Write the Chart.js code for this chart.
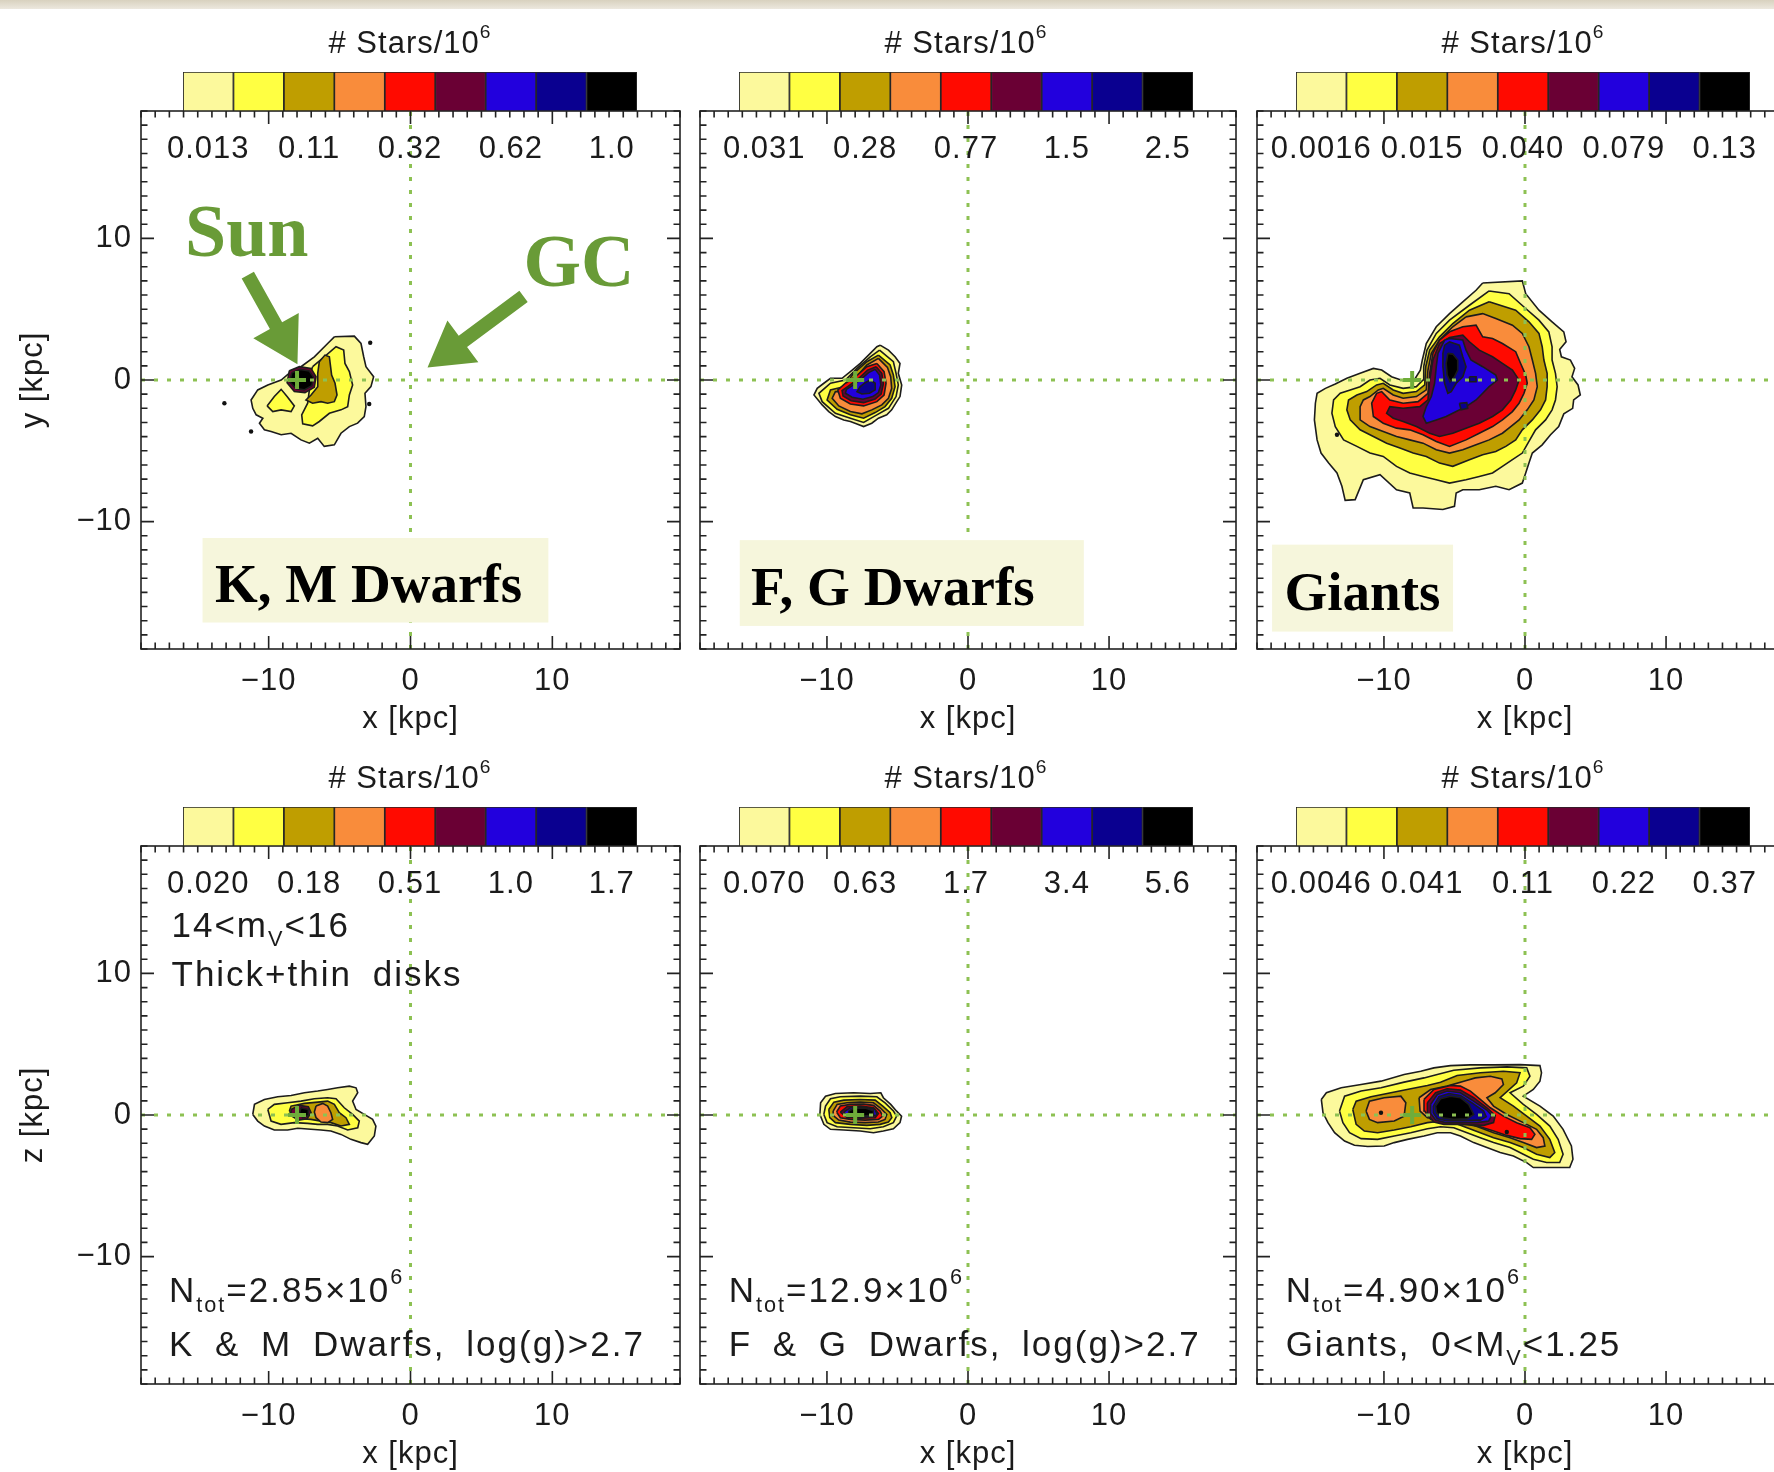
<!DOCTYPE html>
<html>
<head>
<meta charset="utf-8">
<title>Stellar density maps</title>
<script src="https://cdn.jsdelivr.net/npm/chart.js@4.4.1/dist/chart.umd.min.js"></script>
<style>
  html, body { margin: 0; padding: 0; background: #fff; }
  body { position: relative; width: 1774px; height: 1472px; overflow: hidden; }
  .rim { position: absolute; left: 0; top: 0; width: 1774px; height: 9px; background: linear-gradient(#d8d1bf, #ece8de); }
  canvas { position: absolute; }
</style>
</head>
<body>
<div class="rim"></div>
<script>
// density levels, lowest first
const levelColors = ['#fcf99c', '#ffff42', '#bf9e00', '#f98c3b', '#ff0a00', '#6a0034', '#2200dd', '#0a0090', '#000000'];
const cbTickPos = [0.5, 2.5, 4.5, 6.5, 8.5];
const axisTicks = [-10, 0, 10];
const sunPos = [{x: -8, y: 0}];

// colour bar labels (# stars / 10^6)
const cbKMFace = ['0.013', '0.11', '0.32', '0.62', '1.0'];
const cbFGFace = ['0.031', '0.28', '0.77', '1.5', '2.5'];
const cbGiFace = ['0.0016', '0.015', '0.040', '0.079', '0.13'];
const cbKMEdge = ['0.020', '0.18', '0.51', '1.0', '1.7'];
const cbFGEdge = ['0.070', '0.63', '1.7', '3.4', '5.6'];
const cbGiEdge = ['0.0046', '0.041', '0.11', '0.22', '0.37'];

// contour polygons in kpc: [level, [x0, y0, x1, y1, ...]]
const kmFaceOn = [
  [1, [-5.37,3.05, -3.96,3.10, -3.49,2.58, -3.30,1.64, -3.14,0.94, -2.60,0.23, -2.79,-0.47, -3.21,-0.94, -3.14,-1.88, -3.26,-2.58, -3.73,-3.05, -4.31,-3.29, -4.90,-3.76, -5.37,-4.58, -6.08,-4.69, -6.54,-4.11, -7.13,-4.46, -7.72,-4.23, -8.42,-3.76, -9.12,-3.87, -9.83,-3.64, -10.30,-3.52, -10.65,-3.05, -10.41,-2.70, -10.88,-2.46, -11.12,-2.00, -11.24,-1.41, -10.77,-0.70, -10.06,-0.35, -9.12,0, -8.42,0.59, -7.72,0.94, -6.78,1.64, -5.84,2.58]],
  [2, [-6.90,0.94, -6.08,1.64, -5.25,2.35, -4.71,2.11, -4.62,1.17, -4.31,0.59, -4.08,-0.35, -4.31,-1.06, -4.43,-1.88, -4.90,-2.11, -5.72,-2.35, -6.43,-2.93, -6.90,-3.24, -7.60,-3.10, -7.67,-2.46, -7.25,-1.64, -7.13,-0.70, -7.25,0]],
  [2, [-10.11,-1.83, -9.60,-1.17, -9.12,-0.66, -8.70,-1.17, -8.19,-1.83, -8.42,-2.23, -9.12,-2.11, -9.71,-2.23]],
  [3, [-6.43,1.29, -6.03,1.76, -5.72,1.64, -5.56,0.35, -5.32,-0.23, -5.18,-1.06, -5.37,-1.53, -5.84,-1.64, -6.31,-1.53, -6.90,-1.64, -7.37,-1.41, -7.01,-1.06, -6.54,-0.47, -6.54,0.47]],
  [6, [-8.54,0.66, -7.83,0.94, -7.01,0.82, -6.66,0.23, -6.78,-0.52, -7.44,-0.89, -8.19,-0.82, -8.70,-0.19]],
  [9, [-8.37,0.52, -7.78,0.75, -7.13,0.63, -6.83,0.19, -6.95,-0.40, -7.49,-0.70, -8.07,-0.61, -8.52,-0.12]]
];
const kmFaceSpecks = [-2.84,2.63, -2.91,-1.69, -11.24,-3.64, -13.12,-1.64];

const fgFaceOn = [
  [1, [-6.23,2.46, -5.64,2.11, -5.17,1.64, -4.82,1.17, -4.94,0.47, -4.70,-0.35, -4.82,-1.17, -5.05,-1.53, -5.41,-2.11, -5.76,-2.46, -6.35,-2.70, -6.82,-3.05, -7.40,-3.29, -7.87,-3.10, -8.34,-2.93, -8.81,-2.82, -9.40,-2.58, -9.87,-2.23, -10.34,-1.76, -10.92,-1.06, -10.69,-0.59, -10.22,-0.23, -9.75,0.12, -8.93,0.12, -8.34,0.59, -7.64,1.17, -6.93,1.88, -6.46,2.35]],
  [2, [-6.27,2.11, -5.29,1.29, -5.10,0.47, -4.94,-0.35, -5.10,-1.17, -5.64,-2.00, -6.46,-2.46, -7.40,-3.00, -8.34,-2.70, -9.40,-2.35, -10.34,-1.53, -10.57,-0.94, -9.75,-0.23, -8.69,0, -7.87,0.82, -6.93,1.64]],
  [3, [-6.35,1.76, -5.52,1.06, -5.29,0.35, -5.17,-0.47, -5.41,-1.29, -5.88,-1.88, -6.58,-2.30, -7.40,-2.70, -8.34,-2.46, -9.28,-2.07, -9.99,-1.41, -9.75,-0.70, -8.81,-0.47, -8.11,0.47, -7.17,1.29]],
  [4, [-6.35,1.53, -5.71,0.89, -5.48,0.23, -5.41,-0.59, -5.64,-1.29, -6.11,-1.76, -6.82,-2.11, -7.52,-2.39, -8.34,-2.23, -9.16,-1.83, -9.63,-1.29, -9.40,-0.82, -8.81,-0.82, -7.99,0.12, -7.17,1.06]],
  [5, [-6.46,1.17, -5.95,0.59, -5.81,-0.23, -5.95,-1.06, -6.46,-1.53, -7.40,-1.83, -8.34,-1.69, -9.05,-1.29, -9.23,-0.70, -8.69,-0.23, -7.99,0.23, -7.17,0.94]],
  [6, [-6.51,0.94, -6.11,0.47, -6.00,-0.28, -6.16,-0.99, -6.58,-1.34, -7.40,-1.60, -8.29,-1.46, -8.86,-1.13, -8.93,-0.75, -8.46,-0.42, -7.82,0.05, -7.12,0.70]],
  [7, [-6.58,0.75, -6.27,0.35, -6.18,-0.35, -6.35,-0.89, -6.75,-1.17, -7.45,-1.36, -8.22,-1.22, -8.69,-0.94, -8.62,-0.66, -8.11,-0.35, -7.59,0.05, -7.05,0.52]],
  [8, [-6.93,0, -6.58,-0.23, -6.58,-0.70, -6.98,-0.94, -7.52,-0.99, -7.87,-0.82, -7.64,-0.47, -7.29,-0.19]]
];

const giFaceOn = [
  [1, [-3.00,6.85, -0.19,7.00, 0.05,6.10, 0.99,4.93, 1.92,4.11, 2.75,3.40, 2.91,2.70, 2.46,2.16, 2.58,1.64, 3.22,1.41, 3.52,0.82, 3.33,0.23, 3.76,-0.35, 3.92,-1.06, 3.45,-1.41, 3.38,-2.00, 2.75,-2.39, 2.39,-3.29, 1.81,-3.87, 1.22,-4.58, 0.52,-5.16, 0.28,-5.87, 0.05,-6.57, -0.19,-7.28, -1.13,-7.75, -2.07,-7.51, -3.24,-7.75, -4.41,-7.75, -4.88,-7.98, -5.00,-8.92, -5.82,-9.15, -7.23,-9.04, -7.93,-9.04, -8.17,-7.98, -9.11,-7.75, -10.28,-6.69, -11.46,-7.04, -12.04,-8.45, -12.75,-8.50, -12.98,-7.51, -13.33,-6.57, -13.92,-5.87, -14.46,-5.16, -14.74,-4.23, -14.93,-2.82, -14.86,-1.64, -14.74,-0.94, -14.15,-0.59, -13.45,-0.28, -12.63,0.12, -11.69,0.47, -10.75,0.82, -10.16,0.70, -9.46,0.23, -8.64,-0.05, -7.82,0.05, -7.42,0.70, -7.28,1.41, -7.00,2.58, -6.29,3.76, -5.35,4.69, -4.41,5.52, -3.47,6.34]],
  [2, [-2.54,6.29, -1.13,6.10, 0.05,5.05, 0.99,4.23, 1.69,3.40, 1.92,2.35, 1.92,1.41, 2.16,0.47, 2.28,-0.47, 2.16,-1.41, 1.92,-2.11, 1.46,-2.82, 0.75,-3.52, 0.28,-4.34, -0.19,-5.16, -0.89,-5.63, -1.60,-6.10, -2.30,-6.57, -3.24,-6.81, -4.18,-7.04, -5.35,-7.28, -6.29,-7.04, -7.23,-6.81, -8.17,-6.57, -9.11,-6.10, -10.05,-5.40, -10.99,-5.16, -11.92,-4.69, -12.86,-4.23, -13.45,-3.29, -13.69,-2.35, -13.57,-1.41, -13.10,-0.94, -12.39,-0.70, -11.69,-0.47, -10.99,0, -10.28,0.12, -9.58,-0.35, -8.64,-0.59, -7.70,-0.47, -7.23,0, -7.18,0.94, -6.95,2.11, -6.29,3.29, -5.35,4.23, -3.94,5.28]],
  [3, [-2.54,5.52, -0.66,4.93, 0.28,4.11, 0.99,3.29, 1.22,2.35, 1.34,1.41, 1.57,0.47, 1.57,-0.47, 1.46,-1.41, 1.10,-2.11, 0.52,-2.82, -0.19,-3.52, -0.66,-4.23, -1.36,-4.69, -2.07,-5.05, -3.00,-5.28, -3.94,-5.63, -5.12,-6.10, -6.06,-5.87, -7.00,-5.40, -7.93,-5.16, -8.87,-4.81, -9.81,-4.46, -10.75,-3.99, -11.69,-3.52, -12.39,-2.82, -12.63,-2.11, -12.51,-1.41, -11.92,-1.06, -11.22,-0.82, -10.52,-0.35, -10.05,-0.23, -9.34,-0.70, -8.64,-0.94, -7.70,-0.82, -7.11,-0.35, -7.04,0.94, -6.76,2.11, -6.06,3.05, -5.12,3.99, -3.94,4.93]],
  [4, [-4.18,4.46, -3.00,4.69, -2.07,4.34, -0.89,3.87, -0.19,3.29, 0.28,2.35, 0.52,1.41, 0.75,0.47, 0.87,-0.47, 0.63,-1.41, 0.16,-2.11, -0.42,-2.82, -1.01,-3.29, -1.60,-3.76, -2.54,-4.23, -3.47,-4.58, -4.41,-4.93, -5.35,-5.16, -6.29,-4.93, -7.23,-4.46, -8.17,-4.23, -9.11,-3.99, -10.05,-3.64, -10.99,-3.29, -11.69,-2.82, -11.69,-1.88, -11.46,-1.41, -10.99,-1.17, -10.40,-0.70, -10.05,-0.59, -9.34,-1.06, -8.64,-1.29, -7.70,-1.17, -7.00,-0.70, -6.88,0.70, -6.64,1.88, -6.06,2.82, -5.12,3.76]],
  [5, [-5.35,3.40, -4.41,3.76, -3.47,3.87, -3.00,3.05, -2.30,2.93, -1.60,2.58, -0.66,2.00, -0.31,1.17, 0.05,0.35, 0.16,-0.23, -0.07,-0.94, -0.42,-1.64, -0.89,-2.23, -1.60,-2.82, -2.30,-3.29, -3.24,-3.76, -4.18,-4.23, -5.35,-4.69, -6.29,-4.34, -7.23,-3.87, -8.17,-3.52, -9.11,-3.40, -10.05,-3.05, -10.75,-2.58, -10.87,-1.64, -10.52,-0.94, -10.16,-0.82, -9.58,-1.41, -8.64,-1.64, -7.58,-1.53, -6.88,-0.94, -6.76,0.47, -6.53,1.88, -6.06,2.82]],
  [6, [-6.06,2.58, -5.35,3.00, -4.41,3.17, -3.94,2.70, -3.24,2.11, -2.30,1.64, -1.60,1.17, -0.89,0.70, -0.42,0, -0.66,-0.70, -1.01,-1.41, -1.60,-2.11, -2.30,-2.58, -3.24,-3.05, -4.18,-3.40, -5.12,-3.76, -6.06,-3.99, -6.76,-3.76, -7.70,-3.29, -8.64,-2.93, -9.34,-2.70, -9.81,-2.35, -9.58,-1.88, -8.64,-2.00, -7.46,-1.88, -6.88,-1.41, -6.76,0, -6.53,1.41]],
  [7, [-5.70,2.82, -5.35,2.93, -4.41,2.82, -4.18,2.11, -3.83,1.41, -3.00,0.94, -2.07,0.35, -1.95,0, -2.54,-0.47, -3.00,-0.94, -3.47,-1.41, -4.18,-1.88, -4.88,-2.23, -5.59,-2.58, -6.29,-2.82, -7.00,-3.05, -7.23,-2.58, -7.00,-1.88, -6.64,-1.17, -6.41,-0.23, -6.29,0.94, -6.17,1.88]],
  [8, [-5.70,2.46, -5.35,2.70, -4.65,2.46, -4.41,1.64, -4.18,0.94, -4.41,0.23, -4.88,-0.23, -5.23,-0.82, -5.47,-0.94, -5.70,-0.23, -5.82,0.94, -5.82,1.88]],
  [8, [-4.65,-1.64, -4.13,-1.60, -4.06,-2.00, -4.53,-2.11]],
  [8, [-3.94,0.23, -3.47,0.23, -3.47,-0.12, -3.90,-0.12]],
  [9, [-5.47,1.88, -5.12,1.83, -4.77,1.41, -4.77,0.70, -5.00,0.23, -5.31,-0.12, -5.52,0.35, -5.59,1.17]]
];
const giFaceSpecks = [-13.33,-3.87];

const kmEdgeOn = [
  [1, [-11.12,0.04, -11.00,0.75, -10.30,1.10, -9.36,1.29, -8.42,1.38, -7.48,1.57, -6.54,1.69, -5.84,1.80, -5.14,1.92, -4.31,2.04, -3.84,1.92, -3.72,1.57, -4.08,0.98, -3.84,0.39, -3.26,0.04, -2.67,-0.31, -2.44,-0.78, -2.55,-1.48, -3.02,-2.07, -3.49,-1.95, -4.20,-1.72, -4.90,-1.37, -5.61,-1.13, -6.31,-1.06, -7.02,-1.01, -7.95,-0.94, -8.66,-1.06, -9.60,-1.06, -10.30,-0.78, -10.77,-0.43]],
  [2, [-10.06,0.39, -9.60,0.75, -8.66,0.86, -7.72,0.98, -6.78,1.15, -5.84,1.22, -5.25,1.15, -4.67,0.51, -4.08,0.04, -3.61,-0.43, -3.72,-0.90, -4.43,-1.06, -5.14,-0.78, -5.84,-0.66, -6.54,-0.66, -7.25,-0.59, -8.19,-0.54, -9.13,-0.66, -9.83,-0.43]],
  [3, [-8.54,0.28, -8.42,0.63, -7.48,0.82, -6.54,0.91, -5.84,0.98, -5.37,0.75, -5.02,0.16, -4.55,-0.19, -4.31,-0.66, -4.90,-0.78, -5.61,-0.54, -6.31,-0.43, -7.02,-0.31, -7.72,-0.26, -8.30,-0.08]],
  [4, [-6.66,0.63, -6.19,0.82, -5.84,0.63, -5.61,0.16, -5.49,-0.31, -5.84,-0.54, -6.31,-0.50, -6.66,-0.19, -6.78,0.21]],
  [6, [-8.42,0.39, -7.83,0.68, -7.20,0.58, -7.01,0.16, -7.29,-0.26, -7.90,-0.36, -8.37,-0.08]],
  [9, [-7.72,0.51, -7.20,0.39, -7.20,-0.03, -7.60,-0.19, -7.83,0.16]]
];

const fgEdgeOn = [
  [1, [-10.50,0.04, -10.45,0.86, -10.10,1.33, -9.40,1.52, -8.11,1.57, -6.93,1.52, -6.18,1.57, -6.00,1.22, -5.48,0.75, -5.06,0.27, -4.71,-0.08, -4.82,-0.54, -5.29,-0.97, -6.00,-1.13, -6.70,-1.25, -7.64,-1.13, -8.81,-1.06, -9.75,-1.01, -10.22,-0.66]],
  [2, [-10.22,0.04, -10.10,0.63, -9.75,1.15, -9.05,1.29, -7.64,1.33, -6.46,1.29, -5.88,0.86, -5.29,0.28, -5.06,-0.08, -5.29,-0.54, -6.00,-0.83, -6.93,-0.97, -8.11,-0.90, -9.28,-0.83, -9.99,-0.54]],
  [3, [-9.87,0.39, -9.51,0.91, -8.81,1.05, -7.64,1.10, -6.58,1.05, -6.04,0.63, -5.52,0.16, -5.40,-0.19, -5.64,-0.50, -6.23,-0.66, -7.17,-0.73, -8.34,-0.66, -9.40,-0.54, -9.80,-0.19]],
  [4, [-9.56,0.28, -9.28,0.75, -8.58,0.86, -7.64,0.91, -6.70,0.86, -6.23,0.51, -5.76,0.04, -5.88,-0.31, -6.35,-0.50, -7.29,-0.54, -8.34,-0.50, -9.16,-0.36, -9.51,-0.08]],
  [5, [-9.32,0.21, -9.05,0.63, -8.34,0.75, -7.40,0.77, -6.70,0.68, -6.23,0.28, -6.04,-0.08, -6.35,-0.31, -7.29,-0.36, -8.34,-0.31, -9.05,-0.19]],
  [6, [-9.05,0.21, -8.58,0.58, -7.64,0.63, -6.70,0.51, -6.35,0.11, -6.58,-0.19, -7.64,-0.22, -8.58,-0.17]],
  [7, [-8.81,0.21, -8.34,0.51, -7.40,0.56, -6.58,0.39, -6.46,0.04, -6.82,-0.12, -7.87,-0.15, -8.58,-0.08]],
  [9, [-8.46,0.28, -8.11,0.46, -7.29,0.49, -6.70,0.30, -6.70,0.02, -7.29,-0.08, -8.11,-0.08, -8.46,0.04]]
];

const giEdgeOn = [
  [1, [-14.44,1.10, -14.08,1.57, -13.03,1.92, -11.62,2.15, -10.21,2.39, -8.57,2.86, -7.39,3.09, -6.46,3.33, -5.28,3.49, -3.87,3.54, -2.23,3.54, -0.35,3.56, 1.06,3.49, 1.17,2.98, 1.06,2.39, 0.59,1.80, -0.12,1.33, 1.06,0.63, 2.00,-0.08, 2.70,-1.01, 3.29,-2.19, 3.40,-3.12, 3.17,-3.71, 1.53,-3.71, 0.59,-3.71, 0.12,-3.36, -0.82,-2.89, -1.76,-2.65, -2.70,-2.30, -3.64,-1.95, -4.58,-1.48, -5.28,-1.25, -6.22,-1.25, -7.16,-1.48, -8.33,-1.72, -9.27,-1.95, -9.98,-2.19, -11.15,-2.23, -12.09,-2.14, -12.79,-1.84, -13.50,-1.25, -13.97,-0.54, -14.32,0.16]],
  [2, [-13.15,0.28, -12.79,1.33, -11.62,1.69, -10.21,1.92, -8.57,2.32, -7.16,2.62, -6.22,2.86, -5.05,3.16, -3.17,3.33, -1.29,3.40, 0.12,3.33, 0.35,2.74, -0.12,2.04, -1.06,1.57, -0.12,0.75, 0.82,0.04, 1.76,-0.78, 2.35,-1.72, 2.70,-2.77, 2.46,-3.36, 1.53,-3.36, 0.59,-3.12, -0.12,-2.77, -1.06,-2.30, -2.23,-1.95, -3.17,-1.60, -4.11,-1.25, -5.05,-0.90, -5.99,-0.83, -6.92,-0.97, -8.10,-1.25, -9.27,-1.48, -10.45,-1.72, -11.62,-1.67, -12.44,-1.25, -12.91,-0.54]],
  [3, [-12.21,0.39, -11.97,0.98, -10.92,1.29, -9.51,1.57, -8.10,1.85, -6.92,2.08, -5.99,2.32, -4.81,2.79, -3.17,2.98, -1.53,3.09, -0.35,2.98, -0.59,2.27, -1.76,1.22, -0.82,0.63, 0.12,-0.08, 1.06,-0.78, 1.76,-1.72, 2.11,-2.65, 1.76,-3.01, 0.82,-2.77, -0.12,-2.30, -1.06,-1.95, -2.23,-1.60, -3.17,-1.25, -4.11,-0.90, -5.05,-0.54, -5.99,-0.43, -6.92,-0.54, -8.10,-0.83, -9.27,-1.06, -10.45,-1.25, -11.39,-1.13, -11.97,-0.66]],
  [4, [-11.27,0.28, -11.03,0.98, -9.98,1.22, -8.80,1.33, -8.45,0.86, -8.57,-0.08, -9.27,-0.43, -10.45,-0.54, -11.03,-0.31]],
  [4, [-7.51,1.22, -6.69,1.80, -5.52,2.04, -4.34,2.39, -3.52,2.62, -2.46,2.74, -1.64,2.55, -1.53,2.15, -2.11,1.57, -2.70,1.22, -2.23,0.63, -1.29,0.04, -0.12,-0.54, 0.82,-1.01, 1.29,-1.60, 1.41,-2.19, 0.82,-2.30, -0.12,-1.95, -1.06,-1.60, -2.23,-1.25, -3.17,-0.90, -4.11,-0.54, -5.05,-0.43, -5.99,-0.31, -6.92,-0.19, -7.44,0.28]],
  [5, [-7.16,1.10, -6.46,1.80, -5.28,2.08, -4.58,2.04, -3.87,1.69, -3.17,1.10, -2.46,0.51, -1.53,-0.08, -0.59,-0.54, 0.35,-0.90, 0.70,-1.37, 0.47,-1.72, -0.35,-1.67, -1.29,-1.44, -2.23,-1.13, -3.17,-0.83, -4.11,-0.66, -5.05,-0.59, -5.99,-0.54, -6.69,-0.31, -7.11,0.28]],
  [6, [-6.92,0.86, -6.34,1.57, -5.52,1.85, -4.58,1.76, -3.64,1.22, -2.70,0.51, -2.11,-0.03, -2.23,-0.54, -2.93,-0.73, -3.87,-0.69, -4.81,-0.66, -5.75,-0.66, -6.46,-0.50, -6.88,0.04]],
  [7, [-6.69,0.75, -6.22,1.45, -5.52,1.69, -4.58,1.57, -3.64,0.98, -2.70,0.35, -2.35,-0.03, -2.58,-0.43, -3.40,-0.54, -4.58,-0.54, -5.63,-0.54, -6.34,-0.36, -6.69,0.11]],
  [8, [-6.50,0.63, -6.10,1.29, -5.40,1.52, -4.58,1.38, -3.76,0.86, -2.93,0.28, -2.75,-0.12, -3.17,-0.36, -4.34,-0.40, -5.52,-0.40, -6.22,-0.26, -6.50,0.16]],
  [9, [-6.34,0.63, -5.99,1.15, -5.28,1.33, -4.58,1.22, -3.99,0.75, -3.64,0.04, -4.11,-0.26, -5.05,-0.31, -5.87,-0.19, -6.27,0.16]]
];
const giEdgeSpecks = [-10.21,0.16, -1.29,-1.20];

const ink = '#1b1b1b';
const sans = '"Liberation Sans", Arial, sans-serif';
const serif = '"Liberation Serif", "Times New Roman", serif';
const green = '#699b37';
const labelFill = '#f6f6dc';

const colLeft = [141, 697, 1254];
const rowTop = [111, 846];
const plotW = 539, plotH = 538;

function toPoints(flat) {
  const pts = [];
  for (let i = 0; i < flat.length; i += 2) pts.push({x: flat[i], y: flat[i + 1]});
  return pts;
}

function tickText(v) {
  return v < 0 ? '\u2212' + Math.abs(v) : String(v);
}

function addCanvas(left, top, w, h) {
  const c = document.createElement('canvas');
  c.width = w; c.height = h;
  c.style.left = left + 'px'; c.style.top = top + 'px';
  c.style.width = w + 'px'; c.style.height = h + 'px';
  document.body.appendChild(c);
  return c;
}

// keep the plot box fixed: no extra room for overhanging tick labels
function noOverhang(s) {
  s.paddingTop = 0; s.paddingBottom = 0; s.paddingLeft = 0; s.paddingRight = 0;
}

// box outline plus inward ticks on all four sides
const framePlugin = {
  id: 'frame',
  afterDraw(chart) {
    const {ctx, chartArea: a, scales: {x, y}} = chart;
    ctx.save();
    ctx.strokeStyle = '#222';
    ctx.lineWidth = 1.6;
    ctx.strokeRect(a.left, a.top, a.right - a.left, a.bottom - a.top);
    ctx.beginPath();
    for (let v = -19; v <= 19; v++) {
      const len = v % 10 === 0 ? 13 : 6.5;
      const px = x.getPixelForValue(v), py = y.getPixelForValue(v);
      ctx.moveTo(px, a.bottom); ctx.lineTo(px, a.bottom - len);
      ctx.moveTo(px, a.top); ctx.lineTo(px, a.top + len);
      ctx.moveTo(a.left, py); ctx.lineTo(a.left + len, py);
      ctx.moveTo(a.right, py); ctx.lineTo(a.right - len, py);
    }
    ctx.stroke();
    ctx.restore();
  }
};

const spacingPlugin = {
  id: 'spacing',
  beforeDraw(chart) { chart.ctx.letterSpacing = '1px'; }
};

function drawArrow(ctx, x, y, a) {
  const x0 = x.getPixelForValue(a.from[0]), y0 = y.getPixelForValue(a.from[1]);
  const x1 = x.getPixelForValue(a.to[0]), y1 = y.getPixelForValue(a.to[1]);
  const len = Math.hypot(x1 - x0, y1 - y0);
  const ux = (x1 - x0) / len, uy = (y1 - y0) / len, nx = -uy, ny = ux;
  const sw = 7, hw = 26, hb = len - 44;
  const bx = x0 + ux * hb, by = y0 + uy * hb;
  ctx.beginPath();
  ctx.moveTo(x0 + nx * sw, y0 + ny * sw);
  ctx.lineTo(bx + nx * sw, by + ny * sw);
  ctx.lineTo(bx + nx * hw, by + ny * hw);
  ctx.lineTo(x1, y1);
  ctx.lineTo(bx - nx * hw, by - ny * hw);
  ctx.lineTo(bx - nx * sw, by - ny * sw);
  ctx.lineTo(x0 - nx * sw, y0 - ny * sw);
  ctx.closePath();
  ctx.fillStyle = green;
  ctx.fill();
}

// text made of plain, subscript and superscript runs
function drawRuns(ctx, px, py, t) {
  let cx = px;
  t.runs.forEach(r => {
    const small = r[1] ? t.size * 0.62 : t.size;
    const shift = r[1] === 'sub' ? t.size * 0.28 : r[1] === 'sup' ? -t.size * 0.5 : 0;
    ctx.font = `${t.weight || 'normal'} ${small}px ${t.family || sans}`;
    ctx.fillText(r[0], cx, py + shift);
    cx += ctx.measureText(r[0]).width;
  });
}

function runsWidth(ctx, t) {
  let w = 0;
  t.runs.forEach(r => {
    const small = r[1] ? t.size * 0.62 : t.size;
    ctx.font = `${t.weight || 'normal'} ${small}px ${t.family || sans}`;
    w += ctx.measureText(r[0]).width;
  });
  return w;
}

function notesPlugin(notes) {
  return {
    id: 'notes',
    afterDatasetsDraw(chart) {
      const {ctx, scales: {x, y}} = chart;
      ctx.save();
      (notes.boxes || []).forEach(b => {
        const x0 = x.getPixelForValue(b.x0), x1 = x.getPixelForValue(b.x1);
        const y0 = y.getPixelForValue(b.y0), y1 = y.getPixelForValue(b.y1);
        ctx.fillStyle = labelFill;
        ctx.fillRect(x0, y0, x1 - x0, y1 - y0);
      });
      (notes.arrows || []).forEach(a => drawArrow(ctx, x, y, a));
      (notes.texts || []).forEach(t => {
        ctx.fillStyle = t.color || ink;
        ctx.textBaseline = 'alphabetic';
        ctx.textAlign = 'left';
        ctx.letterSpacing = t.spacing || '0px';
        ctx.wordSpacing = t.wordSpacing || '0px';
        drawRuns(ctx, x.getPixelForValue(t.x), y.getPixelForValue(t.y), t);
      });
      ctx.restore();
    }
  };
}

// "# Stars/10^6" centred over the colour bar
const cbTitle = {size: 31, runs: [['# Stars/10'], ['6', 'sup']]};
const cbTitlePlugin = {
  id: 'cbTitle',
  afterDraw(chart) {
    const {ctx, chartArea: a} = chart;
    ctx.save();
    ctx.fillStyle = ink;
    ctx.textBaseline = 'alphabetic';
    ctx.textAlign = 'left';
    ctx.letterSpacing = '1px';
    const w = runsWidth(ctx, cbTitle);
    drawRuns(ctx, (a.left + a.right) / 2 - w / 2, a.top - 19, cbTitle);
    ctx.restore();
  }
};

const tickFont = {family: sans, size: 31};
const noteText = {size: 35, spacing: '2px', wordSpacing: '9px'};

const panels = [
  {col: 0, row: 0, contours: kmFaceOn, specks: kmFaceSpecks, cb: cbKMFace, yTitle: 'y [kpc]',
   notes: {
     boxes: [{x0: -14.66, x1: 9.72, y0: -11.16, y1: -17.13}],
     arrows: [{from: [-11.47, 7.41], to: [-7.97, 1.12]}, {from: [7.97, 5.90], to: [1.20, 0.88]}],
     texts: [
       {x: -15.9, y: 8.76, runs: [['Sun']], size: 74, family: serif, weight: 'bold', color: green},
       {x: 7.97, y: 6.61, runs: [['GC']], size: 74, family: serif, weight: 'bold', color: green},
       {x: -13.78, y: -15.7, runs: [['K, M Dwarfs']], size: 55, family: serif, weight: 'bold', color: '#000'}
     ]}},
  {col: 1, row: 0, contours: fgFaceOn, specks: [], cb: cbFGFace,
   notes: {
     boxes: [{x0: -16.18, x1: 8.21, y0: -11.31, y1: -17.37}],
     texts: [{x: -15.38, y: -15.86, runs: [['F, G Dwarfs']], size: 55, family: serif, weight: 'bold', color: '#000'}]}},
  {col: 2, row: 0, contours: giFaceOn, specks: giFaceSpecks, cb: cbGiFace,
   notes: {
     boxes: [{x0: -17.93, x1: -5.10, y0: -11.63, y1: -17.77}],
     texts: [{x: -17.05, y: -16.25, runs: [['Giants']], size: 55, family: serif, weight: 'bold', color: '#000'}]}},
  {col: 0, row: 1, contours: kmEdgeOn, specks: [], cb: cbKMEdge, yTitle: 'z [kpc]',
   notes: {texts: [
     {x: -16.85, y: 12.6, runs: [['14<m'], ['V', 'sub'], ['<16']], ...noteText},
     {x: -16.85, y: 9.13, runs: [['Thick+thin disks']], ...noteText},
     {x: -17.03, y: -13.2, runs: [['N'], ['tot', 'sub'], ['=2.85\u00d710'], ['6', 'sup']], ...noteText},
     {x: -17.03, y: -17.0, runs: [['K & M Dwarfs, log(g)>2.7']], ...noteText}
   ]}},
  {col: 1, row: 1, contours: fgEdgeOn, specks: [], cb: cbFGEdge,
   notes: {texts: [
     {x: -16.97, y: -13.2, runs: [['N'], ['tot', 'sub'], ['=12.9\u00d710'], ['6', 'sup']], ...noteText},
     {x: -16.97, y: -17.0, runs: [['F & G Dwarfs, log(g)>2.7']], ...noteText}
   ]}},
  {col: 2, row: 1, contours: giEdgeOn, specks: giEdgeSpecks, cb: cbGiEdge,
   notes: {texts: [
     {x: -16.97, y: -13.2, runs: [['N'], ['tot', 'sub'], ['=4.90\u00d710'], ['6', 'sup']], ...noteText},
     {x: -16.97, y: -17.0, runs: [['Giants, 0<M'], ['V', 'sub'], ['<1.25']], ...noteText}
   ]}}
];

function drawPanel(p) {
  const left = colLeft[p.col], top = rowTop[p.row];
  const pad = 3, axisH = 100;
  const yW = p.yTitle ? left : pad;
  const canvas = addCanvas(left - yW, top - pad, yW + plotW + pad, pad + plotH + axisH);

  const datasets = p.contours.map(([lvl, flat]) => {
    const pts = toPoints(flat);
    pts.push(pts[0]);
    return {data: pts, order: 20 - lvl, fill: 'shape', backgroundColor: levelColors[lvl - 1],
            borderColor: '#1c1c1c', borderWidth: 1.6, pointRadius: 0, tension: 0};
  });
  datasets.push({data: toPoints(p.specks), order: 3, showLine: false, pointRadius: 2.2,
                 pointBackgroundColor: '#111', pointBorderWidth: 0});
  datasets.push({data: [{x: -19, y: 0}, {x: 19, y: 0}], order: 2, borderColor: '#8dc153',
                 borderWidth: 3, borderDash: [4, 9], pointRadius: 0, fill: false});
  datasets.push({data: [{x: 0, y: -19}, {x: 0, y: 19}], order: 2, borderColor: '#8dc153',
                 borderWidth: 3, borderDash: [4, 9], pointRadius: 0, fill: false});
  datasets.push({data: sunPos, order: 1, showLine: false, pointStyle: 'cross', pointRadius: 9,
                 pointBorderWidth: 4, pointBorderColor: '#6fad3a'});

  new Chart(canvas, {
    type: 'line',
    data: {datasets},
    options: {
      responsive: false, animation: false, events: [],
      layout: {autoPadding: false, padding: {left: p.yTitle ? 0 : pad, top: pad, right: pad, bottom: 0}},
      plugins: {legend: {display: false}, tooltip: {enabled: false}},
      scales: {
        x: {type: 'linear', min: -19, max: 19,
            afterBuildTicks: s => { s.ticks = axisTicks.map(v => ({value: v})); },
            afterFit: s => { s.height = axisH; noOverhang(s); },
            grid: {display: false, drawTicks: false}, border: {display: false},
            ticks: {font: tickFont, color: ink, padding: 14, maxRotation: 0, callback: tickText},
            title: {display: true, text: 'x [kpc]', font: tickFont, color: ink, padding: {top: 0, bottom: 11}}},
        y: {type: 'linear', min: -19, max: 19, display: !!p.yTitle,
            afterBuildTicks: s => { s.ticks = axisTicks.map(v => ({value: v})); },
            afterFit: s => { s.width = yW; noOverhang(s); },
            grid: {display: false, drawTicks: false}, border: {display: false},
            ticks: {font: tickFont, color: ink, padding: 9, callback: tickText},
            title: {display: !!p.yTitle, text: p.yTitle, font: tickFont, color: ink, padding: {top: 15, bottom: 0}}}
      }
    },
    plugins: [spacingPlugin, notesPlugin(p.notes), framePlugin]
  });
}

function drawColorbar(p) {
  const cbLeft = colLeft[p.col] + 42, cbW = 454, barH = 39;
  const cbTop = rowTop[p.row] - barH;
  const side = 60, head = 52, axisH = 72;
  const canvas = addCanvas(cbLeft - side, cbTop - head, cbW + 2 * side, head + barH + axisH);
  new Chart(canvas, {
    type: 'bar',
    data: {
      labels: [''],
      datasets: levelColors.map(c => ({data: [1], backgroundColor: c, borderColor: '#262626',
        borderWidth: 1.2, borderSkipped: false, barPercentage: 1, categoryPercentage: 1}))
    },
    options: {
      indexAxis: 'y', responsive: false, animation: false, events: [],
      layout: {autoPadding: false, padding: {left: side, right: side, top: head, bottom: 0}},
      plugins: {legend: {display: false}, tooltip: {enabled: false}},
      scales: {
        x: {stacked: true, min: 0, max: 9, position: 'bottom',
            afterBuildTicks: s => { s.ticks = cbTickPos.map(v => ({value: v})); },
            afterFit: s => { s.height = axisH; noOverhang(s); },
            grid: {display: false, drawTicks: false}, border: {display: false},
            ticks: {font: tickFont, color: ink, padding: 19.7, maxRotation: 0, autoSkip: false,
                    callback: (v, i) => p.cb[i]}},
        y: {stacked: true, display: false}
      }
    },
    plugins: [spacingPlugin, cbTitlePlugin]
  });
}

panels.forEach(p => { drawPanel(p); drawColorbar(p); });
</script>
</body>
</html>
